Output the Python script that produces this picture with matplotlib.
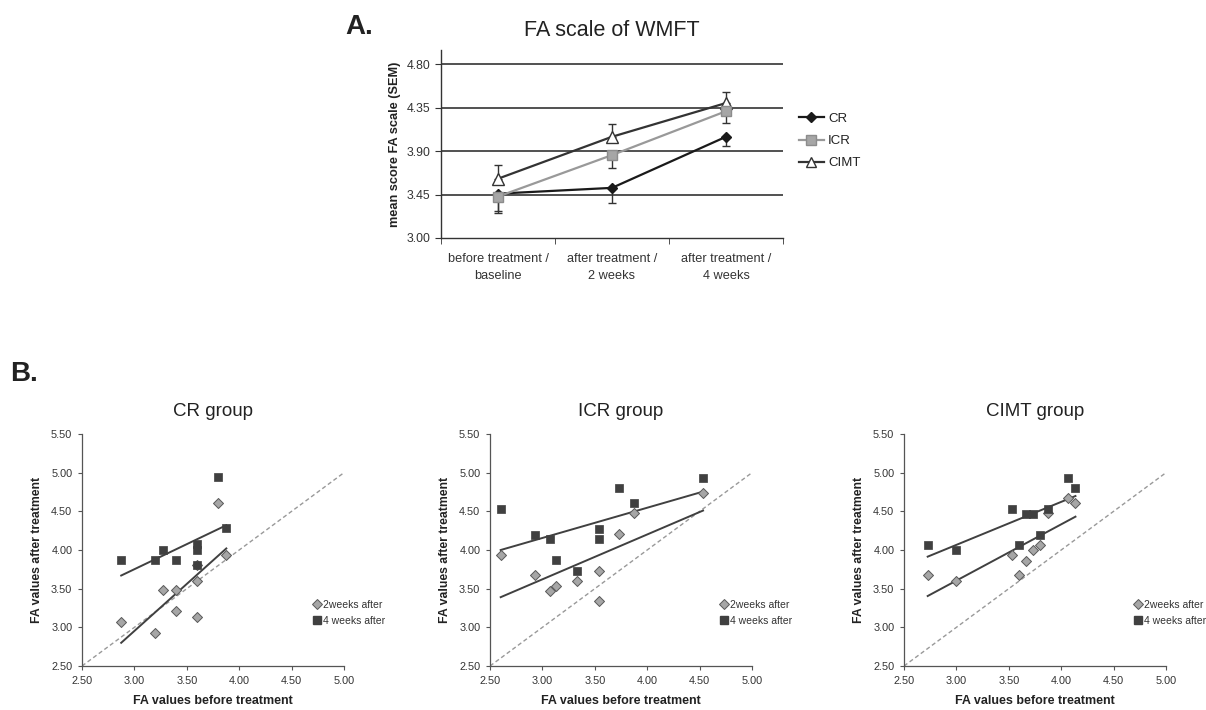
import matplotlib
matplotlib.use("Agg")
import matplotlib.pyplot as plt
from matplotlib.lines import Line2D
import numpy as np

plt.rcParams['font.family'] = ['Liberation Sans', 'DejaVu Sans']

# ---------------- Panel A data ----------------
a_categories = ["before treatment /\nbaseline", "after treatment /\n2 weeks", "after treatment /\n4 weeks"]
a_cr = [3.46, 3.52, 4.05]
a_cr_err = [0.20, 0.155, 0.10]
a_icr = [3.43, 3.86, 4.315]
a_icr_err = [0.15, 0.135, 0.12]
a_cimt = [3.615, 4.05, 4.40]
a_cimt_err = [0.146, 0.13, 0.114]
a_yticks = [3.00, 3.45, 3.90, 4.35, 4.80]

# ---------------- Panel B data ----------------
cr_x2 = [2.874, 3.201, 3.274, 3.398, 3.398, 3.598, 3.598, 3.598, 3.80, 3.877]
cr_y2 = [3.069, 2.931, 3.478, 3.478, 3.207, 3.603, 3.134, 3.81, 4.612, 3.935]
cr_x4 = [2.874, 3.201, 3.274, 3.398, 3.598, 3.598, 3.598, 3.80, 3.877]
cr_y4 = [3.871, 3.871, 4.004, 3.871, 4.073, 4.004, 3.81, 4.944, 4.28]
cr_trend_x = [2.874, 3.877]
cr_trend2_y = [2.80, 4.02]
cr_trend4_y = [3.67, 4.32]

icr_x2 = [2.602, 2.932, 3.069, 3.132, 3.332, 3.536, 3.536, 3.733, 3.875, 4.533]
icr_y2 = [3.935, 3.677, 3.475, 3.531, 3.604, 3.729, 3.338, 4.202, 4.472, 4.735]
icr_x4 = [2.602, 2.932, 3.069, 3.132, 3.332, 3.536, 3.536, 3.733, 3.875, 4.533]
icr_y4 = [4.528, 4.197, 4.142, 3.871, 3.729, 4.275, 4.137, 4.799, 4.606, 4.937]
icr_trend_x = [2.602, 4.533]
icr_trend2_y = [3.39, 4.51]
icr_trend4_y = [4.00, 4.755]

cimt_x2 = [2.726, 2.996, 3.529, 3.599, 3.666, 3.729, 3.799, 3.872, 4.066, 4.136]
cimt_y2 = [3.672, 3.599, 3.931, 3.672, 3.862, 3.996, 4.069, 4.474, 4.672, 4.603]
cimt_x4 = [2.726, 2.996, 3.529, 3.599, 3.666, 3.729, 3.799, 3.872, 4.066, 4.136]
cimt_y4 = [4.069, 3.996, 4.526, 4.069, 4.470, 4.470, 4.198, 4.526, 4.935, 4.797]
cimt_trend_x = [2.726, 4.136]
cimt_trend2_y = [3.405, 4.431]
cimt_trend4_y = [3.914, 4.698]

b_ticks = [2.50, 3.00, 3.50, 4.00, 4.50, 5.00, 5.50]
b_xticks = [2.50, 3.00, 3.50, 4.00, 4.50, 5.00]
identity = [2.5, 5.0]

W, H = 1206, 710
fig = plt.figure(figsize=(W / 100, H / 100), dpi=100)

def fx(px):
    return px / W

def fy(py):
    return 1 - py / H

# ---------------- Panel A ----------------
axA = fig.add_axes([fx(441), fy(238), fx(783 - 441), (238 - 50) / H])
xA = np.arange(len(a_categories))
axA.set_xlim(-0.5, 2.5)
axA.set_ylim(3.0, 4.95)
for v in a_yticks[1:]:
    axA.axhline(v, color='#333333', lw=1.2, zorder=0)
ekw = dict(ecolor='#333333', elinewidth=1.0, capsize=2.8, capthick=1.0)
axA.errorbar(xA, a_cr, yerr=[a_cr_err, [0, 0, 0]], color='#1a1a1a', lw=1.6,
             marker='D', ms=5, mfc='#1a1a1a', mec='#1a1a1a', zorder=4, **ekw)
axA.errorbar(xA, a_icr, yerr=[a_icr_err, [0, 0, 0]], color='#999999', lw=1.6,
             marker='s', ms=7.5, mfc='#a6a6a6', mec='#8c8c8c', zorder=5, **ekw)
axA.errorbar(xA, a_cimt, yerr=[[0, 0, 0], a_cimt_err], color='#333333', lw=1.6,
             marker='^', ms=8, mfc='white', mec='#333333', zorder=3, **ekw)
axA.set_yticks(a_yticks)
axA.set_yticklabels([f"{v:.2f}" for v in a_yticks], fontsize=8.8, color='#333333')
axA.set_xticks(xA)
axA.set_xticklabels(a_categories, fontsize=9.2, color='#333333', linespacing=1.5)
axA.set_xticks([-0.5, 0.5, 1.5, 2.5], minor=True)
axA.tick_params(axis='x', which='major', length=0, pad=11)
axA.tick_params(axis='x', which='minor', length=4, color='#333333', direction='out')
axA.tick_params(axis='y', length=4, color='#333333', direction='out')
for s in ['top', 'right']:
    axA.spines[s].set_visible(False)
for s in ['left', 'bottom']:
    axA.spines[s].set_color('#333333')
    axA.spines[s].set_linewidth(1.0)
axA.set_ylabel("mean score FA scale (SEM)", fontsize=9.2, fontweight='bold', color='#222222')
fig.text(fx(612), fy(30), "FA scale of WMFT", fontsize=15.5, ha='center', va='center', color='#222222')
fig.text(fx(359), fy(27), "A.", fontsize=20, fontweight='bold', ha='center', va='center', color='#222222')

handlesA = [
    Line2D([], [], color='#1a1a1a', lw=1.6, marker='D', ms=5, mfc='#1a1a1a', mec='#1a1a1a'),
    Line2D([], [], color='#999999', lw=1.6, marker='s', ms=7, mfc='#a6a6a6', mec='#8c8c8c'),
    Line2D([], [], color='#333333', lw=1.6, marker='^', ms=7, mfc='white', mec='#333333'),
]
fig.legend(handlesA, ["CR", "ICR", "CIMT"], loc='center left',
           bbox_to_anchor=(fx(787), fy(141)), frameon=False, fontsize=9.5,
           handlelength=1.9, handletextpad=0.3, labelspacing=0.75, labelcolor='#222222')

fig.text(fx(24), fy(374), "B.", fontsize=20, fontweight='bold', ha='center', va='center', color='#222222')

# ---------------- Panel B ----------------
panels = [
    ("CR group", 82, cr_x2, cr_y2, cr_x4, cr_y4, cr_trend_x, cr_trend2_y, cr_trend4_y, 313),
    ("ICR group", 490, icr_x2, icr_y2, icr_x4, icr_y4, icr_trend_x, icr_trend2_y, icr_trend4_y, 720),
    ("CIMT group", 904, cimt_x2, cimt_y2, cimt_x4, cimt_y4, cimt_trend_x, cimt_trend2_y, cimt_trend4_y, 1134),
]
for (title, left, x2, y2, x4, y4, tx, t2, t4, legx) in panels:
    ax = fig.add_axes([fx(left), fy(666), 262 / W, (666 - 434) / H])
    ax.set_xlim(2.5, 5.0)
    ax.set_ylim(2.5, 5.5)
    ax.plot(identity, identity, ls=(0, (3, 2)), color='#999999', lw=1.0, zorder=1)
    ax.plot(tx, t2, color='#404040', lw=1.4, zorder=2)
    ax.plot(tx, t4, color='#404040', lw=1.4, zorder=2)
    ax.scatter(x2, y2, marker='D', s=26, c='#a6a6a6', edgecolors='#595959', linewidths=0.7, zorder=3)
    ax.scatter(x4, y4, marker='s', s=34, c='#404040', edgecolors='#404040', linewidths=0.5, zorder=4)
    ax.set_xticks(b_xticks)
    ax.set_xticklabels([f"{v:.2f}" for v in b_xticks], fontsize=7.8, color='#333333')
    ax.set_yticks(b_ticks)
    ax.set_yticklabels([f"{v:.2f}" for v in b_ticks], fontsize=7.8, color='#333333')
    ax.tick_params(length=3, color='#555555', direction='out', pad=4)
    for s in ['top', 'right']:
        ax.spines[s].set_visible(False)
    for s in ['left', 'bottom']:
        ax.spines[s].set_color('#555555')
        ax.spines[s].set_linewidth(0.9)
    ax.set_xlabel("FA values before treatment", fontsize=9, fontweight='bold', color='#222222', labelpad=7)
    ax.set_ylabel("FA values after treatment", fontsize=8.8, fontweight='bold', color='#222222', labelpad=6)
    fig.text(fx(left + 131), fy(411), title, fontsize=13.5, ha='center', va='center', color='#222222')
    hB = [
        Line2D([], [], ls='none', marker='D', ms=5, mfc='#a6a6a6', mec='#595959', mew=0.7),
        Line2D([], [], ls='none', marker='s', ms=5.5, mfc='#404040', mec='#404040'),
    ]
    fig.legend(hB, ["2weeks after", "4 weeks after"], loc='center left',
               bbox_to_anchor=(fx(legx), fy(613)), frameon=False, fontsize=7.5,
               handlelength=0.8, handletextpad=0.2, labelspacing=0.6, labelcolor='#333333',
               borderaxespad=0, borderpad=0)

fig.savefig("out.png", dpi=100, facecolor='white')
